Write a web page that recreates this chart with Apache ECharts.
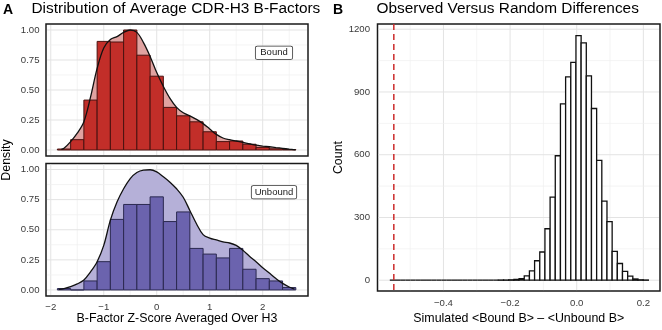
<!DOCTYPE html>
<html><head><meta charset="utf-8">
<script src="https://cdn.jsdelivr.net/npm/echarts@6/dist/echarts.min.js"></script>
<style>html,body{margin:0;padding:0;background:#fff}#chart{width:662px;height:330px}</style>
</head><body><div id="chart"></div>
<script>
// ---------------- DATA ----------------
// Panel A: histogram bins (centers, width 0.25) of normalised density
const binCenters = [-1.75,-1.5,-1.25,-1.0,-0.75,-0.5,-0.25,0,0.25,0.5,0.75,1.0,1.25,1.5,1.75,2.0,2.25,2.5];
const binWidth = 0.25;
const boundHist   = [0.008,0.086,0.416,0.905,0.900,1.000,0.790,0.615,0.355,0.285,0.235,0.152,0.070,0.075,0.048,0.022,0.010,0.004];
const unboundHist = [0.012,0.000,0.075,0.235,0.586,0.710,0.710,0.773,0.568,0.648,0.345,0.298,0.266,0.345,0.172,0.094,0.075,0.020];
// Panel A: density curves
const boundCurveX = [-1.8,-1.75,-1.625,-1.5,-1.375,-1.25,-1.125,-1.0,-0.875,-0.75,-0.625,-0.5,-0.375,-0.25,-0.125,0,0.125,0.25,0.375,0.5,0.625,0.75,0.875,1.0,1.125,1.25,1.375,1.5,1.625,1.75,1.875,2.0,2.125,2.25,2.375,2.5,2.62];
const boundCurveY = [0.005,0.014,0.07,0.14,0.236,0.44,0.68,0.85,0.92,0.945,0.98,1.0,0.98,0.895,0.78,0.645,0.53,0.43,0.355,0.31,0.285,0.255,0.22,0.175,0.13,0.10,0.086,0.075,0.064,0.052,0.04,0.033,0.027,0.02,0.014,0.007,0.001];
const unboundCurveX = [-1.85,-1.75,-1.625,-1.5,-1.375,-1.25,-1.125,-1.0,-0.875,-0.75,-0.625,-0.5,-0.375,-0.25,-0.125,0,0.125,0.25,0.375,0.5,0.625,0.75,0.875,1.0,1.125,1.25,1.375,1.5,1.625,1.75,1.875,2.0,2.125,2.25,2.375,2.5,2.6];
const unboundCurveY = [0.005,0.012,0.028,0.05,0.083,0.15,0.235,0.37,0.58,0.73,0.84,0.925,0.975,0.995,0.998,0.98,0.94,0.895,0.84,0.77,0.66,0.55,0.46,0.43,0.415,0.40,0.39,0.37,0.33,0.28,0.235,0.185,0.14,0.095,0.055,0.025,0.008];
// Panel B: permutation histogram (50 bins)
const permBinStart = -0.561;
const permBinWidth = 0.01552;
const permCounts = [0,0,0,0,0,0,0,0,0,0, 0,0,0,0,0,0,0,0,0,0, 0,1,1,2,4,7,21,45,93,135, 246,397,595,843,972,1042,1169,1135,977,821, 573,378,280,138,80,42,20,6,2,1];
const observedDiff = -0.549;
// Tick values
const aXTicks = [-2,-1,0,1,2];
const aXMinor = [-1.5,-0.5,0.5,1.5,2.5];
const aYTicks = [0,0.25,0.5,0.75,1];
const aYMinor = [0.125,0.375,0.625,0.875];
const bXTicks = [-0.4,-0.2,0,0.2];
const bXMinor = [-0.5,-0.3,-0.1,0.1];
const bYTicks = [0,300,600,900,1200];
const bYMinor = [150,450,750,1050];

// ---------------- CHART ----------------
const FONT = '"Liberation Sans", Arial, Helvetica, sans-serif';
const chart = echarts.init(document.getElementById('chart'), null, {renderer: 'canvas'});
const minus = s => String(s).replace('-', '\u2212');

const aXRange = [-2.09, 2.855], aYRange = [-0.05, 1.05];
const bXRange = [-0.598, 0.25], bYRange = [-52, 1225];

function vGrid(values, color, width, idx) {
  return {
    type: 'custom', xAxisIndex: idx, yAxisIndex: idx, silent: true, z: 1,
    data: values.map(v => [v]), encode: {x: 0},
    renderItem: (params, api) => {
      const cs = params.coordSys;
      const x = api.coord([api.value(0), 0])[0];
      return {type: 'line', shape: {x1: x, y1: cs.y + 1, x2: x, y2: cs.y + cs.height - 1},
              style: {stroke: color, lineWidth: width}};
    }
  };
}
function hGrid(values, color, width, idx) {
  return {
    type: 'custom', xAxisIndex: idx, yAxisIndex: idx, silent: true, z: 1,
    data: values.map(v => [0, v]), encode: {y: 1},
    renderItem: (params, api) => {
      const cs = params.coordSys;
      const y = api.coord([0, api.value(1)])[1];
      return {type: 'line', shape: {x1: cs.x + 1, y1: y, x2: cs.x + cs.width - 1, y2: y},
              style: {stroke: color, lineWidth: width}};
    }
  };
}
function histSeries(data, fill, stroke, lw, idx) {
  return {
    type: 'custom', xAxisIndex: idx, yAxisIndex: idx, z: 3, silent: true,
    data: data, encode: {x: [0, 1], y: 2},
    renderItem: (params, api) => {
      const p0 = api.coord([api.value(0), api.value(2)]);
      const p1 = api.coord([api.value(1), 0]);
      return {type: 'rect', shape: {x: p0[0], y: p0[1], width: p1[0] - p0[0], height: p1[1] - p0[1]},
              style: {fill: fill, stroke: stroke, lineWidth: lw}};
    }
  };
}
function curveArea(xs, ys, color, idx) {
  return {type: 'line', xAxisIndex: idx, yAxisIndex: idx, z: 2, silent: true,
    data: xs.map((x, i) => [x, ys[i]]), smooth: 0.35, symbol: 'none',
    lineStyle: {width: 0}, areaStyle: {color: color, opacity: 1}};
}
function curveLine(xs, ys, idx) {
  return {type: 'line', xAxisIndex: idx, yAxisIndex: idx, z: 4, silent: true,
    data: xs.map((x, i) => [x, ys[i]]), smooth: 0.35, symbol: 'none',
    lineStyle: {width: 1.3, color: '#111'}};
}
const boundBars = binCenters.map((c, i) => [c - binWidth / 2, c + binWidth / 2, boundHist[i]]);
const unboundBars = binCenters.map((c, i) => [c - binWidth / 2, c + binWidth / 2, unboundHist[i]]);
const permBars = permCounts.map((n, i) => [permBinStart + i * permBinWidth, permBinStart + (i + 1) * permBinWidth, n]);

const tickLabel = {color: '#3a3a3a', fontSize: 9.6, fontFamily: FONT};
const gridStyle = {show: true, borderColor: '#1a1a1a', borderWidth: 1.5, backgroundColor: '#fff'};
const MAJ = '#e3e3e3', MIN = '#efefef';

const option = {
  animation: false,
  backgroundColor: '#fff',
  title: [
    {text: 'A', left: 3, top: 3, padding: 0, textStyle: {fontSize: 14, fontWeight: 'bold', color: '#000', fontFamily: FONT, lineHeight: 14}},
    {text: 'Distribution of Average CDR-H3 B-Factors', left: 31.5, top: 0, padding: 0, textStyle: {fontSize: 15.4, fontWeight: 'normal', color: '#000', fontFamily: FONT, lineHeight: 17}},
    {text: 'B', left: 333, top: 3, padding: 0, textStyle: {fontSize: 14, fontWeight: 'bold', color: '#000', fontFamily: FONT, lineHeight: 14}},
    {text: 'Observed Versus Random Differences', left: 376.5, top: 0, padding: 0, textStyle: {fontSize: 15.4, fontWeight: 'normal', color: '#000', fontFamily: FONT, lineHeight: 17}}
  ],
  grid: [
    Object.assign({left: 46, top: 24, width: 262, height: 132}, gridStyle),
    Object.assign({left: 46, top: 163.5, width: 262, height: 132.5}, gridStyle),
    Object.assign({left: 377.5, top: 24, width: 282.5, height: 274}, gridStyle)
  ],
  xAxis: [
    {gridIndex: 0, type: 'value', min: aXRange[0], max: aXRange[1], axisLine: {show: false}, axisTick: {show: false}, axisLabel: {show: false}, splitLine: {show: false}},
    {gridIndex: 1, type: 'value', min: aXRange[0], max: aXRange[1], axisLine: {show: false}, axisTick: {show: false}, splitLine: {show: false},
     axisLabel: Object.assign({customValues: aXTicks, margin: 6, formatter: v => minus(v)}, tickLabel),
     name: 'B-Factor Z-Score Averaged Over H3', nameLocation: 'middle', nameGap: 16,
     nameTextStyle: {fontSize: 12.4, color: '#000', fontFamily: FONT}},
    {gridIndex: 2, type: 'value', min: bXRange[0], max: bXRange[1], axisLine: {show: false}, axisTick: {show: false}, splitLine: {show: false},
     axisLabel: Object.assign({customValues: bXTicks, margin: 7, formatter: v => minus(Number(v).toFixed(1))}, tickLabel),
     name: 'Simulated <Bound B> \u2013 <Unbound B>', nameLocation: 'middle', nameGap: 19,
     nameTextStyle: {fontSize: 12.4, color: '#000', fontFamily: FONT}}
  ],
  yAxis: [
    {gridIndex: 0, type: 'value', min: aYRange[0], max: aYRange[1], axisLine: {show: false}, axisTick: {show: false}, splitLine: {show: false},
     axisLabel: Object.assign({customValues: aYTicks, margin: 6.5, formatter: v => Number(v).toFixed(2)}, tickLabel)},
    {gridIndex: 1, type: 'value', min: aYRange[0], max: aYRange[1], axisLine: {show: false}, axisTick: {show: false}, splitLine: {show: false},
     axisLabel: Object.assign({customValues: aYTicks, margin: 6.5, formatter: v => Number(v).toFixed(2)}, tickLabel)},
    {gridIndex: 2, type: 'value', min: bYRange[0], max: bYRange[1], axisLine: {show: false}, axisTick: {show: false}, splitLine: {show: false},
     axisLabel: Object.assign({customValues: bYTicks, margin: 7.5, formatter: v => String(v)}, tickLabel),
     name: 'Count', nameLocation: 'middle', nameGap: 31, nameRotate: 90,
     nameTextStyle: {fontSize: 12.4, color: '#000', fontFamily: FONT}}
  ],
  graphic: [
    {type: 'text', x: 7, y: 160, rotation: Math.PI / 2, z: 10,
     style: {text: 'Density', fill: '#000', font: '12.4px ' + FONT, align: 'center', verticalAlign: 'middle'}},
    {type: 'text', x: 274, y: 52.8, z: 10,
     style: {text: 'Bound', fill: '#1a1a1a', font: '9.5px ' + FONT, align: 'center', verticalAlign: 'middle',
             backgroundColor: '#fff', borderColor: '#333', borderWidth: 0.8, borderRadius: 1.5, padding: [1.5, 4.5, 1, 4.5]}},
    {type: 'text', x: 274, y: 192.2, z: 10,
     style: {text: 'Unbound', fill: '#1a1a1a', font: '9.5px ' + FONT, align: 'center', verticalAlign: 'middle',
             backgroundColor: '#fff', borderColor: '#333', borderWidth: 0.8, borderRadius: 1.5, padding: [1.5, 3, 1, 3]}}
  ],
  series: [
    vGrid(aXMinor, MIN, 0.7, 0), vGrid(aXTicks, MAJ, 1, 0), hGrid(aYMinor, MIN, 0.7, 0), hGrid(aYTicks, MAJ, 1, 0),
    vGrid(aXMinor, MIN, 0.7, 1), vGrid(aXTicks, MAJ, 1, 1), hGrid(aYMinor, MIN, 0.7, 1), hGrid(aYTicks, MAJ, 1, 1),
    vGrid(bXMinor, MIN, 0.7, 2), vGrid(bXTicks, MAJ, 1, 2), hGrid(bYMinor, MIN, 0.7, 2), hGrid(bYTicks, MAJ, 1, 2),
    curveArea(boundCurveX, boundCurveY, '#e0a3a1', 0),
    histSeries(boundBars, '#c22e29', '#4a1210', 1, 0),
    curveLine(boundCurveX, boundCurveY, 0),
    curveArea(unboundCurveX, unboundCurveY, '#b5b0d8', 1),
    histSeries(unboundBars, '#6b63ae', '#2b2950', 1, 1),
    curveLine(unboundCurveX, unboundCurveY, 1),
    histSeries(permBars, '#ffffff', '#111111', 1.3, 2),
    {type: 'line', xAxisIndex: 2, yAxisIndex: 2, z: 5, silent: true, symbol: 'none',
     data: [[observedDiff, bYRange[1]], [observedDiff, bYRange[0]]],
     lineStyle: {color: '#cc2b2b', width: 1.5, type: [6, 4]}}
  ]
};
chart.setOption(option);
</script></body></html>
